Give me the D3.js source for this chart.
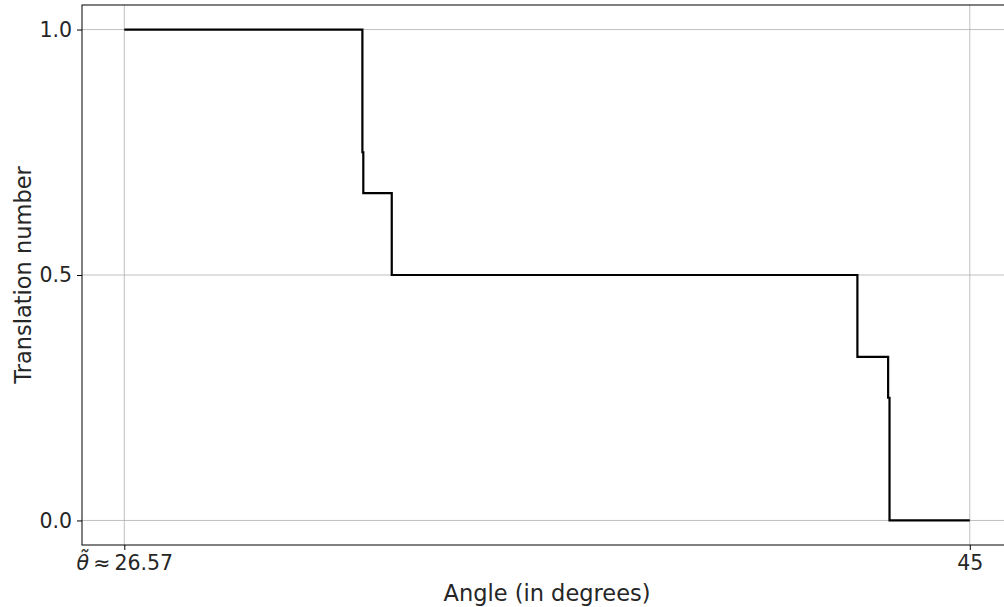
<!DOCTYPE html>
<html>
<head>
<meta charset="utf-8">
<script src="https://cdn.jsdelivr.net/npm/d3@7"></script>
<style>
  body { margin: 0; background: #fff; }
  svg text { font-family: "DejaVu Sans", sans-serif; fill: #262626; }
</style>
</head>
<body>
<svg width="1004" height="607"></svg>
<script>
// Step points (angle in degrees, translation number), drawn as step-after
const angles = [26.57, 31.76, 31.78, 32.40, 42.55, 43.22, 43.25, 45];
const values = [1, 0.75, 0.6667, 0.5, 0.3333, 0.25, 0, 0];
const yTicks = [0, 0.5, 1.0];
const xTicks = [26.57, 45];

const width = 1004, height = 607;
const margin = {left: 82, top: 5, right: -8, bottom: 62};
const svg = d3.select("svg");

const x = d3.scaleLinear()
    .domain([25.648, 45.92])
    .range([margin.left, width - margin.right]);
const y = d3.scaleLinear()
    .domain([-0.05, 1.05])
    .range([height - margin.bottom, margin.top]);

// grid
svg.append("g").selectAll("line.h")
    .data(yTicks).enter().append("line")
    .attr("x1", x.range()[0]).attr("x2", x.range()[1])
    .attr("y1", d => y(d)).attr("y2", d => y(d))
    .attr("stroke", "#b0b0b0").attr("stroke-width", 0.8);
svg.append("g").selectAll("line.v")
    .data(xTicks).enter().append("line")
    .attr("x1", d => x(d)).attr("x2", d => x(d))
    .attr("y1", y.range()[0]).attr("y2", y.range()[1])
    .attr("stroke", "#b0b0b0").attr("stroke-width", 0.8);

// step line
const data = angles.map((a, i) => ({a: a, v: values[i]}));
svg.append("path")
    .datum(data)
    .attr("fill", "none")
    .attr("stroke", "#000")
    .attr("stroke-width", 2.2)
    .attr("d", d3.line().x(d => x(d.a)).y(d => y(d.v)).curve(d3.curveStepAfter));

// frame
svg.append("rect")
    .attr("x", x.range()[0]).attr("y", y.range()[1])
    .attr("width", x.range()[1] - x.range()[0])
    .attr("height", y.range()[0] - y.range()[1])
    .attr("fill", "none").attr("stroke", "#000").attr("stroke-width", 1);

// axes
const xAxis = svg.append("g")
    .attr("transform", `translate(0,${y.range()[0]})`)
    .call(d3.axisBottom(x).tickValues(xTicks).tickSize(5).tickPadding(5)
        .tickFormat(d => d === 45 ? "45" : "26.57"));
const yAxis = svg.append("g")
    .attr("transform", `translate(${x.range()[0]},0)`)
    .call(d3.axisLeft(y).tickValues(yTicks).tickSize(5).tickPadding(5)
        .tickFormat(d3.format(".1f")));

[xAxis, yAxis].forEach(g => {
    g.select(".domain").remove();
    g.selectAll(".tick line").attr("stroke", "#000").attr("stroke-width", 1);
    g.selectAll(".tick text").attr("font-size", 20.5).attr("fill", "#262626")
        .attr("font-family", "DejaVu Sans");
});

// theta tilde label
xAxis.selectAll(".tick text").filter(d => d !== 45).each(function() {
    const t = d3.select(this).text(null);
    t.append("tspan").attr("font-style", "italic").text("\u03B8\u0303");
    t.append("tspan").text("\u2009\u2248\u200926.57");
});
xAxis.selectAll(".tick text").filter(d => d !== 45)
    .attr("text-anchor", "middle").attr("dx", "0");

// labels
svg.append("text")
    .attr("x", (x.range()[0] + x.range()[1]) / 2)
    .attr("y", 601)
    .attr("text-anchor", "middle")
    .attr("font-size", 22.5)
    .text("Angle (in degrees)");
svg.append("text")
    .attr("transform", `translate(31,${y(0.5)}) rotate(-90)`)
    .attr("text-anchor", "middle")
    .attr("font-size", 22.5)
    .text("Translation number");
</script>
</body>
</html>
